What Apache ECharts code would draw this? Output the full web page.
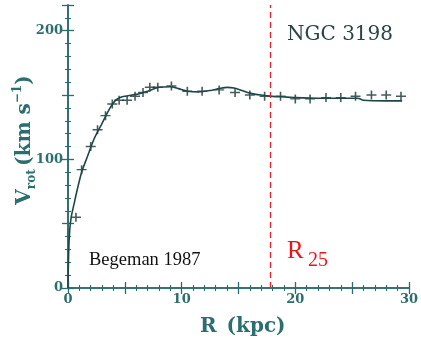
<!DOCTYPE html>
<html>
<head>
<meta charset="utf-8">
<script src="https://cdn.jsdelivr.net/npm/echarts@6/dist/echarts.min.js"></script>
<style>html,body{margin:0;padding:0;background:#fff}#c{width:421px;height:345px}</style>
</head>
<body>
<div id="c"></div>
<script>
// Observed rotation velocities (crosses)
var obsR = [0.7, 1.2, 2.0, 2.6, 3.3, 3.9, 4.5, 5.2, 5.9, 6.6, 7.2, 7.9, 9.1, 10.5, 11.8, 13.3, 14.7, 16.0, 17.3, 18.7, 20.0, 21.3, 22.7, 24.0, 25.3, 26.7, 28.0, 29.3];
var obsV = [55, 92, 110, 123, 134, 143, 146, 146, 149, 152, 156, 156, 157, 153, 153, 154, 152, 150, 149, 149, 147, 147, 148, 148, 149, 150, 150, 149];
// Model fit curve
var fitR = [0, 0.05, 0.15, 0.3, 0.5, 0.8, 1.2, 1.7, 2.3, 3.0, 3.7, 4.2, 4.7, 5.3, 6.0, 7.0, 8.0, 9.0, 9.7, 10.5, 11.5, 12.5, 13.3, 14.0, 14.6, 15.3, 16.0, 17.0, 18.0, 19.0, 20.0, 22.0, 24.0, 25.5, 26.0, 28.0, 29.4];
var fitV = [0, 25, 45, 56, 64, 76, 90, 102, 116, 128, 140, 146, 148.5, 149.5, 150.5, 153, 156, 156.5, 155, 153, 152.5, 153.5, 155, 156, 155.5, 153.5, 151.5, 150, 149, 148.5, 148, 147.5, 147.5, 147.5, 146, 145.5, 145.5];
var r25 = 17.8;
var xLabels = [0, 10, 20, 30];
var yLabels = [0, 100, 200];

var axisCol = '#2b6b6b';
var txtCol = '#2b6e6e';
var obs = obsR.map(function (r, i) { return [r, obsV[i]]; });
var fit = fitR.map(function (r, i) { return [r, fitV[i]]; });

function axisBase(extra) {
  var a = {
    axisLine: { show: true, lineStyle: { color: axisCol, width: 1.6 } },
    axisTick: { show: true, inside: true, length: 6, lineStyle: { color: axisCol, width: 1.3 } },
    minorTick: { show: true, splitNumber: 5, length: 3, lineStyle: { color: axisCol, width: 1.1 } },
    splitLine: { show: false },
    minorSplitLine: { show: false }
  };
  for (var k in extra) a[k] = extra[k];
  return a;
}
var labelFont = { color: txtCol, fontFamily: 'DejaVu Serif', fontWeight: 'bold', fontSize: 13 };

var chart = echarts.init(document.getElementById('c'));
chart.setOption({
  animation: false,
  backgroundColor: '#fff',
  grid: { left: 68, right: 8.5, top: 5, bottom: 57 },
  xAxis: [
    axisBase({ type: 'value', min: 0, max: 30, interval: 5, position: 'bottom',
      axisLabel: Object.assign({ margin: 5, formatter: function (v) { return xLabels.indexOf(v) >= 0 ? String(v) : ''; } }, labelFont) }),
    axisBase({ type: 'value', min: 0, max: 30, interval: 5, position: 'top', axisLabel: { show: false } })
  ],
  yAxis: [
    axisBase({ type: 'value', min: 0, max: 220, interval: 50, position: 'left',
      axisLabel: Object.assign({ margin: 5, formatter: function (v) { return yLabels.indexOf(v) >= 0 ? String(v) : ''; } }, labelFont) }),
    axisBase({ type: 'value', min: 0, max: 220, interval: 50, position: 'right', axisLabel: { show: false } })
  ],
  series: [
    {
      type: 'line', data: fit, xAxisIndex: 0, yAxisIndex: 0, showSymbol: false, smooth: 0.25,
      lineStyle: { color: '#1d4747', width: 1.6 },
      markLine: {
        silent: true, symbol: 'none',
        label: { show: false },
        lineStyle: { color: '#e8202a', type: [6, 4], width: 1.3 },
        data: [{ xAxis: r25 }]
      }
    },
    {
      type: 'scatter', data: obs, xAxisIndex: 0, yAxisIndex: 0,
      symbol: 'path://M4.2,0H5.8V10H4.2Z M0,4.2H10V5.8H0Z', symbolSize: [10, 9],
      itemStyle: { color: '#173232' }
    }
  ],
  graphic: [
    { type: 'text', left: 287, top: 25, style: { text: 'NGC 3198', fill: '#2a4545', font: '20px "DejaVu Serif"' } },
    { type: 'text', left: 89, top: 251, style: { text: 'Begeman 1987', fill: '#111', font: '18.5px "Liberation Serif"' } },
    { type: 'text', left: 287, top: 239, style: { text: 'R', fill: '#e8141c', font: '25px "Liberation Serif"' } },
    { type: 'text', left: 308, top: 251, style: { text: '25', fill: '#e8141c', font: '20px "Liberation Serif"' } },
    { type: 'text', left: 200, top: 317, style: { text: 'R\u2002(kpc)', fill: txtCol, font: 'bold 20px "DejaVu Serif"' } },
    {
      type: 'text', x: 25, y: 140, rotation: Math.PI / 2,
      style: {
        text: '{v|V}{sub|rot} {p|(km s}{sup|−1}{p|)}',
        align: 'center', verticalAlign: 'middle', fill: txtCol,
        rich: {
          v: { fontFamily: 'DejaVu Serif', fontWeight: 'bold', fontSize: 20, lineHeight: 26, fill: txtCol },
          p: { fontFamily: 'DejaVu Serif', fontWeight: 'bold', fontSize: 20, lineHeight: 26, fill: txtCol },
          sub: { fontFamily: 'DejaVu Serif', fontWeight: 'bold', fontSize: 12, lineHeight: 26, verticalAlign: 'bottom', fill: txtCol },
          sup: { fontFamily: 'DejaVu Serif', fontWeight: 'bold', fontSize: 12, lineHeight: 26, verticalAlign: 'top', fill: txtCol }
        }
      }
    }
  ]
});
</script>
</body>
</html>
